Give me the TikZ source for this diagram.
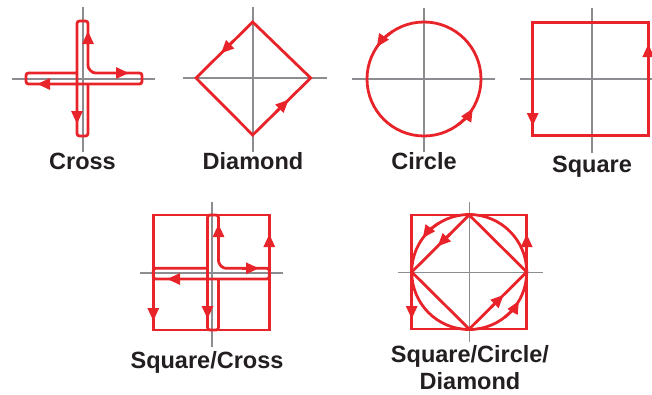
\documentclass[tikz,border=0pt]{standalone}
\usepackage{fontspec}
\setmainfont{Liberation Sans}
\usetikzlibrary{arrows.meta,calc}
\definecolor{myred}{RGB}{232,36,42}
\definecolor{axisgray}{RGB}{140,140,145}
\definecolor{txt}{RGB}{35,31,32}
\begin{document}
\begin{tikzpicture}[x=1pt,y=-1pt,
  axis/.style={draw=axisgray,line width=1.6pt},
  redline/.style={draw=myred,line width=2.8pt},
  tip/.style={draw=myred,line width=2.8pt,-{Triangle[length=13pt,width=11pt]}},
  lbl/.style={font=\bfseries\fontsize{23.5}{28}\selectfont,text=txt,anchor=base,inner sep=0pt}]
\useasboundingbox (0,0) rectangle (652,394);

% ---------- Cross ----------
\draw[axis] (12,79) -- (155,79);
\draw[axis] (82.7,7) -- (82.7,152);
\draw[redline,rounded corners=2.5pt] (77,73) -- (26,73) -- (26,84) -- (142,84) -- (142,73) -- (93,73) -- (88,68) -- (88,21) -- (77,21) -- (77,136) -- (88,136) -- (88,84);
\draw[tip] (88,48) -- (88,31);
\draw[tip] (77,107) -- (77,124);
\draw[tip] (112,73) -- (129,73);
\draw[tip] (54,84) -- (37,84);
\node[lbl] (lcross) at (82.5,169) {Cross};

% ---------- Diamond ----------
\draw[axis] (183,78) -- (327,78);
\draw[axis] (252.7,7) -- (252.7,152);
\coordinate (dT) at (252.7,22);
\coordinate (dL) at (196,78);
\coordinate (dB) at (252.7,135);
\coordinate (dR) at (310.7,78);
\draw[redline] (dT) -- (dL) -- (dB) -- (dR) -- cycle;
\draw[tip] ($(dT)!0.34!(dL)$) -- ($(dT)!0.56!(dL)$);
\draw[tip] ($(dB)!0.40!(dR)$) -- ($(dB)!0.62!(dR)$);
\node[lbl] (ldiamond) at (253,169) {Diamond};

% ---------- Circle ----------
\draw[axis] (352,79) -- (495,79);
\draw[axis] (424,8) -- (424,152);
\coordinate (cC) at (424,79);
\draw[redline] (cC) circle[radius=57pt];
\draw[tip] (cC) ++(-124:57) arc (-124:-146:57);
\draw[tip] (cC) ++(53:57) arc (53:31:57);
\node[lbl] (lcircle) at (424,169) {Circle};

% ---------- Square ----------
\draw[axis] (591.7,8) -- (591.7,153);
\draw[axis] (520,79) -- (652,79);
\draw[redline] (532.7,22.3) rectangle (648.3,135.7);
\draw[tip] (532.7,109) -- (532.7,126);
\draw[tip] (648.3,61) -- (648.3,44);
\node[lbl] (lsquare) at (592,172.5) {Square};

% ---------- Square/Cross ----------
\draw[axis] (211.7,202) -- (211.7,347);
\draw[axis] (140,272.7) -- (283,272.7);
\draw[redline] (153.3,215) rectangle (269.3,330);
\draw[redline,rounded corners=2.5pt] (207.5,268.3) -- (153.3,268.3) -- (153.3,279) -- (269.3,279) -- (269.3,268.3) -- (223.5,268.3) -- (218.5,263.3) -- (218.5,215) -- (207.5,215) -- (207.5,330) -- (218.5,330) -- (218.5,279);
\draw[tip] (218.5,241) -- (218.5,224);
\draw[tip] (207.5,302) -- (207.5,319);
\draw[tip] (242,268.3) -- (259,268.3);
\draw[tip] (184,279) -- (167,279);
\draw[tip] (153.3,304) -- (153.3,321);
\draw[tip] (269.3,251) -- (269.3,234);
\node[lbl] (lsqcross) at (207,368) {Square/Cross};

% ---------- Square/Circle/Diamond ----------
\draw[axis] (469.3,202) -- (469.3,342);
\draw[axis] (398,272.5) -- (543.3,272.5);
\coordinate (sC) at (469.2,272);
\coordinate (sT) at (469.2,215);
\coordinate (sL) at (411.7,272);
\coordinate (sB) at (469.2,329);
\coordinate (sR) at (526.7,272);
\draw[redline] (411.7,215) rectangle (526.7,329);
\draw[redline] (sC) circle[radius=57.5pt];
\draw[redline] (sT) -- (sL) -- (sB) -- (sR) -- cycle;
\draw[tip] (526.7,251) -- (526.7,234);
\draw[tip] (411.7,302) -- (411.7,319);
\draw[tip] (sC) ++(-122:57.5) arc (-122:-144:57.5);
\draw[tip] (sC) ++(52:57.5) arc (52:30:57.5);
\draw[tip] ($(sT)!0.33!(sL)$) -- ($(sT)!0.55!(sL)$);
\draw[tip] ($(sB)!0.38!(sR)$) -- ($(sB)!0.60!(sR)$);
\node[lbl] (lscd1) at (470,362) {Square/Circle/};
\node[lbl] (lscd2) at (470,389.5) {Diamond};
\end{tikzpicture}
\end{document}
